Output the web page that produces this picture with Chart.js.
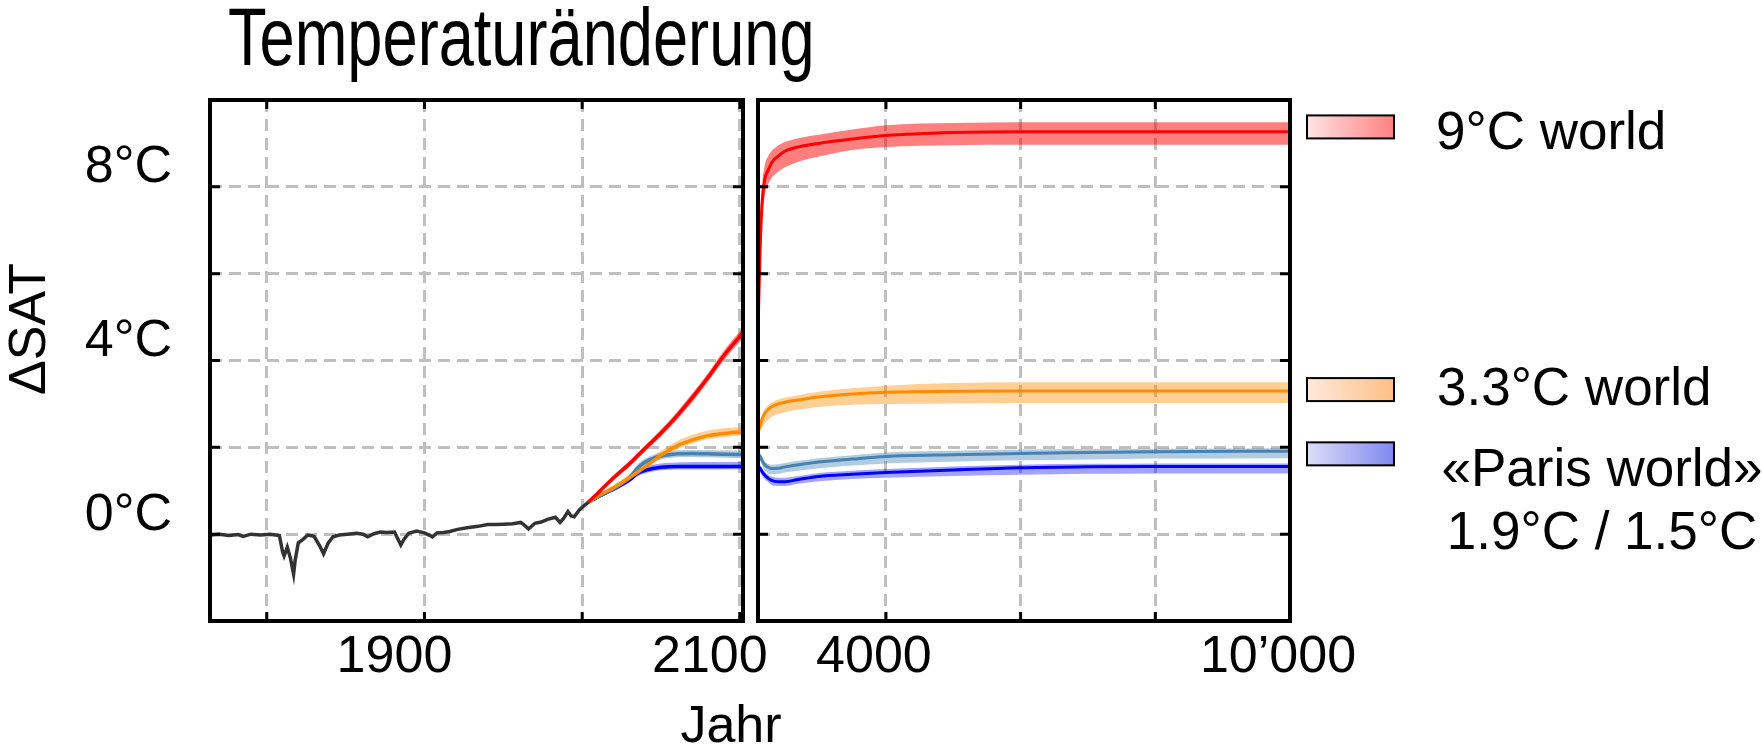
<!DOCTYPE html>
<html>
<head>
<meta charset="utf-8">
<script src="https://cdn.jsdelivr.net/npm/chart.js@4.4.1/dist/chart.umd.min.js"></script>
<style>
  html, body { margin: 0; padding: 0; background: #fff; }
  #wrap { position: relative; width: 1762px; height: 748px; }
  canvas { position: absolute; left: 0; top: 0; }
</style>
</head>
<body>
<div id="wrap">
  <canvas id="left" width="1762" height="748"></canvas>
  <canvas id="right" width="1762" height="748"></canvas>
</div>
<script>
// axis ticks
const yTicks = [-2, 0, 2, 4, 6, 8, 10];
const yLabels = ["", "0°C", "", "4°C", "", "8°C", ""];
const leftXTicks = [1800, 1900, 2000, 2100];
const leftXLabels = ["", "1900", "", "2100"];
const rightXTicks = [4000, 6000, 8000, 10000];
const rightXLabels = ["4000", "", "", "10’000"];

// observed record
const histYears = [1764, 1770, 1776, 1782, 1785, 1790, 1796, 1802, 1808, 1810, 1811, 1813, 1815, 1817, 1818, 1820, 1823, 1826, 1830, 1834, 1836, 1839, 1842, 1846, 1851, 1857, 1861, 1864, 1868, 1872, 1876, 1881, 1883, 1885, 1887, 1890, 1895, 1900, 1903, 1905, 1908, 1912, 1916, 1921, 1927, 1934, 1940, 1945, 1950, 1956, 1961, 1963, 1966, 1970, 1974, 1978, 1983, 1986, 1988, 1991, 1993, 1995, 1998, 2000, 2004];
const histTemp = [-0.02, 0.0, -0.03, -0.01, -0.05, 0.0, -0.02, 0.0, -0.03, -0.4, -0.5, -0.3, -0.55, -0.92, -0.6, -0.2, -0.12, -0.02, -0.05, -0.3, -0.45, -0.2, -0.06, -0.02, 0.0, 0.02, 0.0, -0.06, 0.01, 0.05, 0.04, 0.05, -0.1, -0.25, -0.12, 0.02, 0.07, 0.03, -0.02, -0.06, 0.03, 0.04, 0.06, 0.11, 0.15, 0.18, 0.22, 0.22, 0.23, 0.24, 0.27, 0.22, 0.12, 0.25, 0.28, 0.34, 0.39, 0.27, 0.35, 0.52, 0.42, 0.4, 0.55, 0.62, 0.74];

// scenarios until 2100
const scenYears = [2004, 2010, 2020, 2030, 2035, 2040, 2050, 2060, 2070, 2080, 2090, 2102];
const red = [0.74, 0.95, 1.3, 1.62, 1.8, 1.98, 2.33, 2.72, 3.15, 3.62, 4.12, 4.64];
const redHi = [0.78, 1.0, 1.36, 1.69, 1.87, 2.05, 2.41, 2.81, 3.25, 3.72, 4.23, 4.76];
const redLo = [0.7, 0.9, 1.24, 1.55, 1.73, 1.91, 2.25, 2.63, 3.05, 3.52, 4.01, 4.52];
const orange = [0.74, 0.88, 1.07, 1.3, 1.42, 1.55, 1.82, 2.03, 2.17, 2.27, 2.32, 2.36];
const orangeHi = [0.77, 0.92, 1.13, 1.38, 1.5, 1.64, 1.92, 2.14, 2.29, 2.39, 2.44, 2.47];
const orangeLo = [0.71, 0.84, 1.02, 1.24, 1.36, 1.48, 1.74, 1.95, 2.09, 2.19, 2.24, 2.28];
const steel = [0.74, 0.86, 1.05, 1.3, 1.52, 1.66, 1.8, 1.85, 1.86, 1.85, 1.84, 1.83];
const steelHi = [0.77, 0.9, 1.1, 1.37, 1.6, 1.74, 1.88, 1.93, 1.94, 1.94, 1.93, 1.92];
const steelLo = [0.71, 0.82, 1.0, 1.23, 1.44, 1.58, 1.72, 1.77, 1.78, 1.77, 1.76, 1.75];
const blue = [0.74, 0.86, 1.04, 1.25, 1.4, 1.47, 1.54, 1.56, 1.56, 1.56, 1.56, 1.56];
const blueHi = [0.77, 0.9, 1.09, 1.31, 1.47, 1.55, 1.63, 1.65, 1.66, 1.66, 1.66, 1.66];
const blueLo = [0.71, 0.82, 0.99, 1.19, 1.33, 1.4, 1.47, 1.49, 1.49, 1.49, 1.49, 1.5];

// long term, 2100 - 10000
const longYears = [2100, 2130, 2160, 2200, 2250, 2300, 2400, 2500, 2700, 3000, 3500, 4000, 5000, 6000, 7000, 8000, 10000];
const red9 = [4.64, 6.5, 7.6, 8.17, 8.38, 8.55, 8.71, 8.82, 8.92, 9.0, 9.1, 9.18, 9.25, 9.27, 9.27, 9.27, 9.27];
const red9Hi = [4.76, 7.0, 8.0, 8.5, 8.7, 8.82, 8.95, 9.03, 9.12, 9.2, 9.32, 9.42, 9.47, 9.49, 9.49, 9.49, 9.49];
const red9Lo = [4.52, 5.8, 7.2, 7.8, 8.05, 8.2, 8.35, 8.45, 8.58, 8.7, 8.85, 8.92, 8.96, 8.97, 8.97, 8.97, 8.97];
const orange33 = [2.36, 2.5, 2.65, 2.78, 2.87, 2.93, 3.0, 3.04, 3.09, 3.16, 3.23, 3.27, 3.29, 3.3, 3.3, 3.3, 3.3];
const orange33Hi = [2.47, 2.6, 2.75, 2.88, 2.97, 3.03, 3.1, 3.14, 3.2, 3.28, 3.36, 3.42, 3.48, 3.5, 3.5, 3.5, 3.5];
const orange33Lo = [2.28, 2.35, 2.45, 2.55, 2.63, 2.7, 2.76, 2.81, 2.87, 2.93, 2.98, 3.0, 3.01, 3.02, 3.02, 3.02, 3.02];
const steel19 = [1.83, 1.8, 1.7, 1.6, 1.54, 1.51, 1.52, 1.55, 1.6, 1.66, 1.73, 1.79, 1.83, 1.86, 1.88, 1.9, 1.91];
const steel19Hi = [1.92, 1.88, 1.78, 1.68, 1.62, 1.6, 1.61, 1.64, 1.69, 1.75, 1.82, 1.88, 1.92, 1.95, 1.96, 1.97, 1.98];
const steel19Lo = [1.75, 1.7, 1.58, 1.47, 1.4, 1.38, 1.39, 1.42, 1.46, 1.52, 1.58, 1.63, 1.67, 1.7, 1.72, 1.74, 1.75];
const blue15 = [1.56, 1.52, 1.44, 1.36, 1.29, 1.24, 1.21, 1.21, 1.26, 1.33, 1.38, 1.42, 1.48, 1.53, 1.55, 1.56, 1.56];
const blue15Hi = [1.66, 1.6, 1.52, 1.44, 1.37, 1.33, 1.3, 1.3, 1.34, 1.41, 1.46, 1.5, 1.56, 1.6, 1.62, 1.63, 1.63];
const blue15Lo = [1.5, 1.44, 1.35, 1.27, 1.2, 1.14, 1.11, 1.11, 1.16, 1.22, 1.27, 1.3, 1.34, 1.37, 1.39, 1.4, 1.4];

// legend
const legendLabels = [["9°C world"], ["3.3°C world"], ["«Paris world»", "1.9°C / 1.5°C"]];
const legendAt = [9.38, 3.33, 1.85];

const FONT = '"Liberation Sans", Arial, sans-serif';
const gridColor = "#bfbfbf";
const C = {
  red: "#ff0000", redBand: "rgba(255,0,0,0.5)",
  orange: "#ff8c00", orangeBand: "rgba(255,140,0,0.42)",
  steel: "#4682b4", steelBand: "rgba(70,130,180,0.42)",
  blue: "#0000ff", blueBand: "rgba(0,0,255,0.36)"
};
const legendGrad = [["#ffe4e4", "#ff8080"], ["#ffeadc", "#ffbe84"], ["#dcdef8", "#8088ee"]];
const legendText = [
  { dx: 146, dy: 22, align: "left" },
  { dx: 147, dy: 15, align: "left" },
  { dx: 312, dy: 32, align: "center" }
];

function pts(xs, ys) {
  return xs.map((x, i) => ({ x, y: ys[i] }));
}

function line(xs, ys, color, width) {
  return {
    data: pts(xs, ys), borderColor: color, borderWidth: width || 3,
    pointRadius: 0, fill: false, cubicInterpolationMode: "monotone", order: 1
  };
}

function band(xs, hi, lo, color) {
  return [
    { data: pts(xs, hi), borderWidth: 0, pointRadius: 0, fill: "+1", backgroundColor: color, cubicInterpolationMode: "monotone", order: 2 },
    { data: pts(xs, lo), borderWidth: 0, pointRadius: 0, fill: false, cubicInterpolationMode: "monotone", order: 2 }
  ];
}

function yScale(withLabels) {
  return {
    type: "linear", min: -2, max: 10,
    afterBuildTicks: s => { s.ticks = yTicks.map(v => ({ value: v })); },
    afterFit: s => { s.width = withLabels ? 210 : 0; },
    grid: { color: gridColor, lineWidth: 3, drawTicks: false },
    border: { display: false, dash: [12, 7] },
    ticks: {
      display: withLabels, autoSkip: false, padding: 38, labelOffset: -19,
      color: "#000", font: { family: FONT, size: 52 },
      callback: (v, i) => yLabels[i]
    }
  };
}

function xScale(min, max, ticks, labels, offset) {
  return {
    type: "linear", min, max,
    afterBuildTicks: s => { s.ticks = ticks.map(v => ({ value: v })); },
    afterFit: s => { s.height = 127; },
    grid: { color: gridColor, lineWidth: 3, drawTicks: false },
    border: { display: false, dash: [12, 7] },
    ticks: {
      autoSkip: false, maxRotation: 0, minRotation: 0, padding: 5, labelOffset: offset,
      color: "#000", font: { family: FONT, size: 52 },
      callback: (v, i) => labels[i]
    }
  };
}

// black frame with inward tick marks
const framePlugin = {
  id: "frame",
  afterDatasetsDraw(chart) {
    const { ctx, chartArea: a, scales } = chart;
    ctx.save();
    ctx.strokeStyle = "#000";
    ctx.lineWidth = 3;
    ctx.beginPath();
    scales.x.ticks.forEach(t => {
      const px = scales.x.getPixelForValue(t.value);
      if (px <= a.left + 2 || px >= a.right - 2) return;
      ctx.moveTo(px, a.top); ctx.lineTo(px, a.top + 9);
      ctx.moveTo(px, a.bottom); ctx.lineTo(px, a.bottom - 9);
    });
    scales.y.ticks.forEach(t => {
      const py = scales.y.getPixelForValue(t.value);
      if (py <= a.top + 2 || py >= a.bottom - 2) return;
      ctx.moveTo(a.left, py); ctx.lineTo(a.left + 10, py);
      ctx.moveTo(a.right, py); ctx.lineTo(a.right - 10, py);
    });
    ctx.stroke();
    ctx.lineWidth = 4;
    ctx.strokeRect(a.left, a.top, a.right - a.left, a.bottom - a.top);
    ctx.restore();
  }
};

// title, axis titles
const textPlugin = {
  id: "texts",
  afterDraw(chart) {
    const { ctx, chartArea: a } = chart;
    ctx.save();
    ctx.fillStyle = "#000";
    ctx.textBaseline = "alphabetic";
    ctx.textAlign = "left";
    ctx.font = "81px " + FONT;
    ctx.save();
    ctx.scale(0.78, 1);
    ctx.fillText("Temperaturänderung", 228 / 0.78, 65);
    ctx.restore();
    ctx.textAlign = "center";
    ctx.font = "52px " + FONT;
    ctx.fillText("Jahr", 731, 742);
    ctx.save();
    ctx.translate(31, a.top + 229);
    ctx.rotate(-Math.PI / 2);
    ctx.textBaseline = "middle";
    ctx.fillText("ΔSAT", 0, 0);
    ctx.restore();
    ctx.restore();
  }
};

const legendPlugin = {
  id: "sideLegend",
  afterDraw(chart) {
    const { ctx, chartArea: a, scales } = chart;
    ctx.save();
    legendLabels.forEach((lines, i) => {
      const cy = scales.y.getPixelForValue(legendAt[i]);
      const bx = a.right + 17, bw = 87, bh = 23;
      const g = ctx.createLinearGradient(bx, 0, bx + bw, 0);
      g.addColorStop(0, legendGrad[i][0]);
      g.addColorStop(1, legendGrad[i][1]);
      ctx.fillStyle = g;
      ctx.fillRect(bx, cy - bh / 2, bw, bh);
      ctx.lineWidth = 2;
      ctx.strokeStyle = "#000";
      ctx.strokeRect(bx, cy - bh / 2, bw, bh);
      ctx.fillStyle = "#000";
      ctx.font = "53px " + FONT;
      ctx.textBaseline = "alphabetic";
      const st = legendText[i];
      ctx.textAlign = st.align;
      lines.forEach((t, j) => ctx.fillText(t, a.right + st.dx, cy + st.dy + j * 63));
    });
    ctx.restore();
  }
};

const common = {
  responsive: false,
  animation: false,
  plugins: { legend: { display: false }, tooltip: { enabled: false }, title: { display: false } }
};

new Chart(document.getElementById("left"), {
  type: "line",
  data: {
    datasets: [
      ...band(scenYears, redHi, redLo, C.redBand),
      ...band(scenYears, orangeHi, orangeLo, C.orangeBand),
      ...band(scenYears, steelHi, steelLo, C.steelBand),
      ...band(scenYears, blueHi, blueLo, C.blueBand),
      line(scenYears, red, C.red, 3.5),
      line(scenYears, orange, C.orange, 3.5),
      line(scenYears, steel, C.steel, 3.5),
      line(scenYears, blue, C.blue, 3.5),
      { data: pts(histYears, histTemp), borderColor: "#333333", borderWidth: 3.5, pointRadius: 0, fill: false, tension: 0, order: 0 }
    ]
  },
  options: {
    ...common,
    layout: { padding: { top: 100, right: 1019, bottom: 0, left: 0 } },
    scales: {
      x: xScale(1764, 2102, leftXTicks, leftXLabels, -30),
      y: yScale(true)
    }
  },
  plugins: [framePlugin, textPlugin]
});

new Chart(document.getElementById("right"), {
  type: "line",
  data: {
    datasets: [
      ...band(longYears, red9Hi, red9Lo, C.redBand),
      ...band(longYears, orange33Hi, orange33Lo, C.orangeBand),
      ...band(longYears, steel19Hi, steel19Lo, C.steelBand),
      ...band(longYears, blue15Hi, blue15Lo, C.blueBand),
      line(longYears, red9, C.red, 3),
      line(longYears, orange33, C.orange, 3),
      line(longYears, steel19, C.steel, 3),
      line(longYears, blue15, C.blue, 3)
    ]
  },
  options: {
    ...common,
    layout: { padding: { top: 100, right: 472, bottom: 0, left: 758 } },
    scales: {
      x: xScale(2100, 10000, rightXTicks, rightXLabels, -12),
      y: yScale(false)
    }
  },
  plugins: [framePlugin, legendPlugin]
});
</script>
</body>
</html>
